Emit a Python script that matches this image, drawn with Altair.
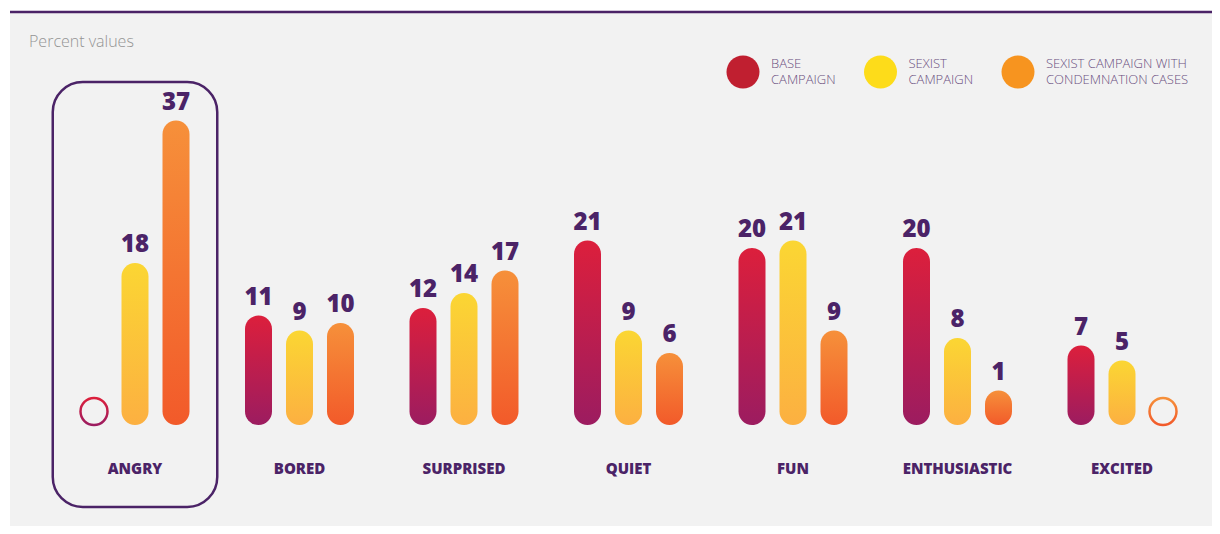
import altair as alt
import pandas as pd

# ---------------- data ----------------
categories = ["ANGRY", "BORED", "SURPRISED", "QUIET", "FUN", "ENTHUSIASTIC", "EXCITED"]
series = ["BASE CAMPAIGN", "SEXIST CAMPAIGN", "SEXIST CAMPAIGN WITH CONDEMNATION CASES"]
base_values = [0, 11, 12, 21, 20, 20, 7]
sexist_values = [18, 9, 14, 9, 21, 8, 5]
condemnation_values = [37, 10, 17, 6, 9, 1, 0]
legend_line1 = ["BASE", "SEXIST", "SEXIST CAMPAIGN WITH"]
legend_line2 = ["CAMPAIGN", "CAMPAIGN", "CONDEMNATION CASES"]
legend_colors = ["#C01F30", "#FDDC1A", "#F7941F"]
highlight = ["ANGRY"]
subtitle = "Percent values"

rows = []
for s, vals in zip(series, [base_values, sexist_values, condemnation_values]):
    for c, v in zip(categories, vals):
        rows.append({"category": c, "series": s, "value": v})
df = pd.DataFrame(rows)

# ---------------- style ----------------
W, H = 1204, 518
PURPLE = "#4B2367"
FONT = "Open Sans"
grad_colors = {
    series[0]: ("#DC1F3C", "#9C1C60"),
    series[1]: ("#FBD633", "#FCB041"),
    series[2]: ("#F6903A", "#F25A2A"),
}


def grad(top, bottom):
    return alt.LinearGradient(
        gradient="linear", x1=0, y1=0, x2=0, y2=1,
        stops=[alt.GradientStop(color=top, offset=0),
               alt.GradientStop(color=bottom, offset=1)],
    )


CAP = -3.6  # rounded cap below the zero line (in value units)
x_enc = alt.X("category:N", sort=categories,
              scale=alt.Scale(domain=categories, range=[42.75, 1194.25],
                              paddingInner=0, paddingOuter=0),
              axis=None)
xo_enc = alt.XOffset("series:N", sort=series,
                     scale=alt.Scale(domain=series, range=[20.75, 143.75],
                                     paddingInner=0, paddingOuter=0))
y_enc = alt.Y("value:Q", scale=alt.Scale(domain=[CAP, 40], range=[417, 90], nice=False,
                                         zero=False),
              axis=None)

one = pd.DataFrame({"a": [0]})

bg = alt.Chart(one).mark_rect(color="#F2F2F2").encode(
    x=alt.value(0), x2=alt.value(W), y=alt.value(4), y2=alt.value(H))
topline = alt.Chart(one).mark_rule(color=PURPLE, strokeWidth=2.5).encode(
    x=alt.value(0), x2=alt.value(W), y=alt.value(4))
title = alt.Chart(one).mark_text(
    align="left", baseline="middle", font=FONT, fontSize=16, fontWeight=300,
    color="#949494").encode(x=alt.value(19), y=alt.value(34), text=alt.value(subtitle))

box = alt.Chart(pd.DataFrame({"category": highlight})).mark_rect(
    cornerRadius=30, fill="transparent", stroke=PURPLE, strokeWidth=2.5
).encode(x=x_enc, y=alt.value(74), y2=alt.value(499))

layers = [bg, topline, title, box]
src = alt.Chart(df)
for s in series:
    top, bottom = grad_colors[s]
    bars = src.transform_filter(
        (alt.datum.series == s) & (alt.datum.value > 0)
    ).mark_bar(width=27, cornerRadius=13.5, fill=grad(top, bottom)).encode(
        x=x_enc, xOffset=xo_enc, y=y_enc, y2=alt.datum(CAP))
    rings = src.transform_filter(
        (alt.datum.series == s) & (alt.datum.value == 0)
    ).mark_bar(width=27, cornerRadius=13.5, fill="transparent",
               stroke=grad(top, bottom), strokeWidth=2.5).encode(
        x=x_enc, xOffset=xo_enc, y=y_enc, y2=alt.datum(CAP))
    layers += [bars, rings]

value_labels = src.transform_filter(alt.datum.value > 0).mark_text(
    baseline="alphabetic", dy=-11, font=FONT, fontSize=24, fontWeight=800,
    color=PURPLE
).encode(x=x_enc, xOffset=xo_enc, y=y_enc, text="value:Q")

cat_labels = alt.Chart(pd.DataFrame({"category": categories})).mark_text(
    baseline="middle", font=FONT, fontSize=15, fontWeight=800, color=PURPLE
).encode(x=x_enc, y=alt.value(461), text="category:N")

layers += [value_labels, cat_labels]

# ---------------- legend (drawn swatches) ----------------
LEG_X0, LEG_STEP = 733, 137.5
for i, (l1, l2, col) in enumerate(zip(legend_line1, legend_line2, legend_colors)):
    cx = LEG_X0 + i * LEG_STEP
    sw = alt.Chart(one).mark_circle(size=1089, opacity=1, color=col).encode(
        x=alt.value(cx), y=alt.value(64))
    t1 = alt.Chart(one).mark_text(
        align="left", baseline="middle", font=FONT, fontSize=13, fontWeight=300,
        color="#6A4F80").encode(x=alt.value(cx + 28), y=alt.value(56), text=alt.value(l1))
    t2 = alt.Chart(one).mark_text(
        align="left", baseline="middle", font=FONT, fontSize=13, fontWeight=300,
        color="#6A4F80").encode(x=alt.value(cx + 28), y=alt.value(72), text=alt.value(l2))
    layers += [sw, t1, t2]

chart = alt.layer(*layers).properties(
    width=W, height=H,
    autosize=alt.AutoSizeParams(type="fit", contains="padding"),
    padding=0, background="white",
).configure_view(stroke=None)

chart.save("out.html", embed_options={"renderer": "svg", "actions": False})
